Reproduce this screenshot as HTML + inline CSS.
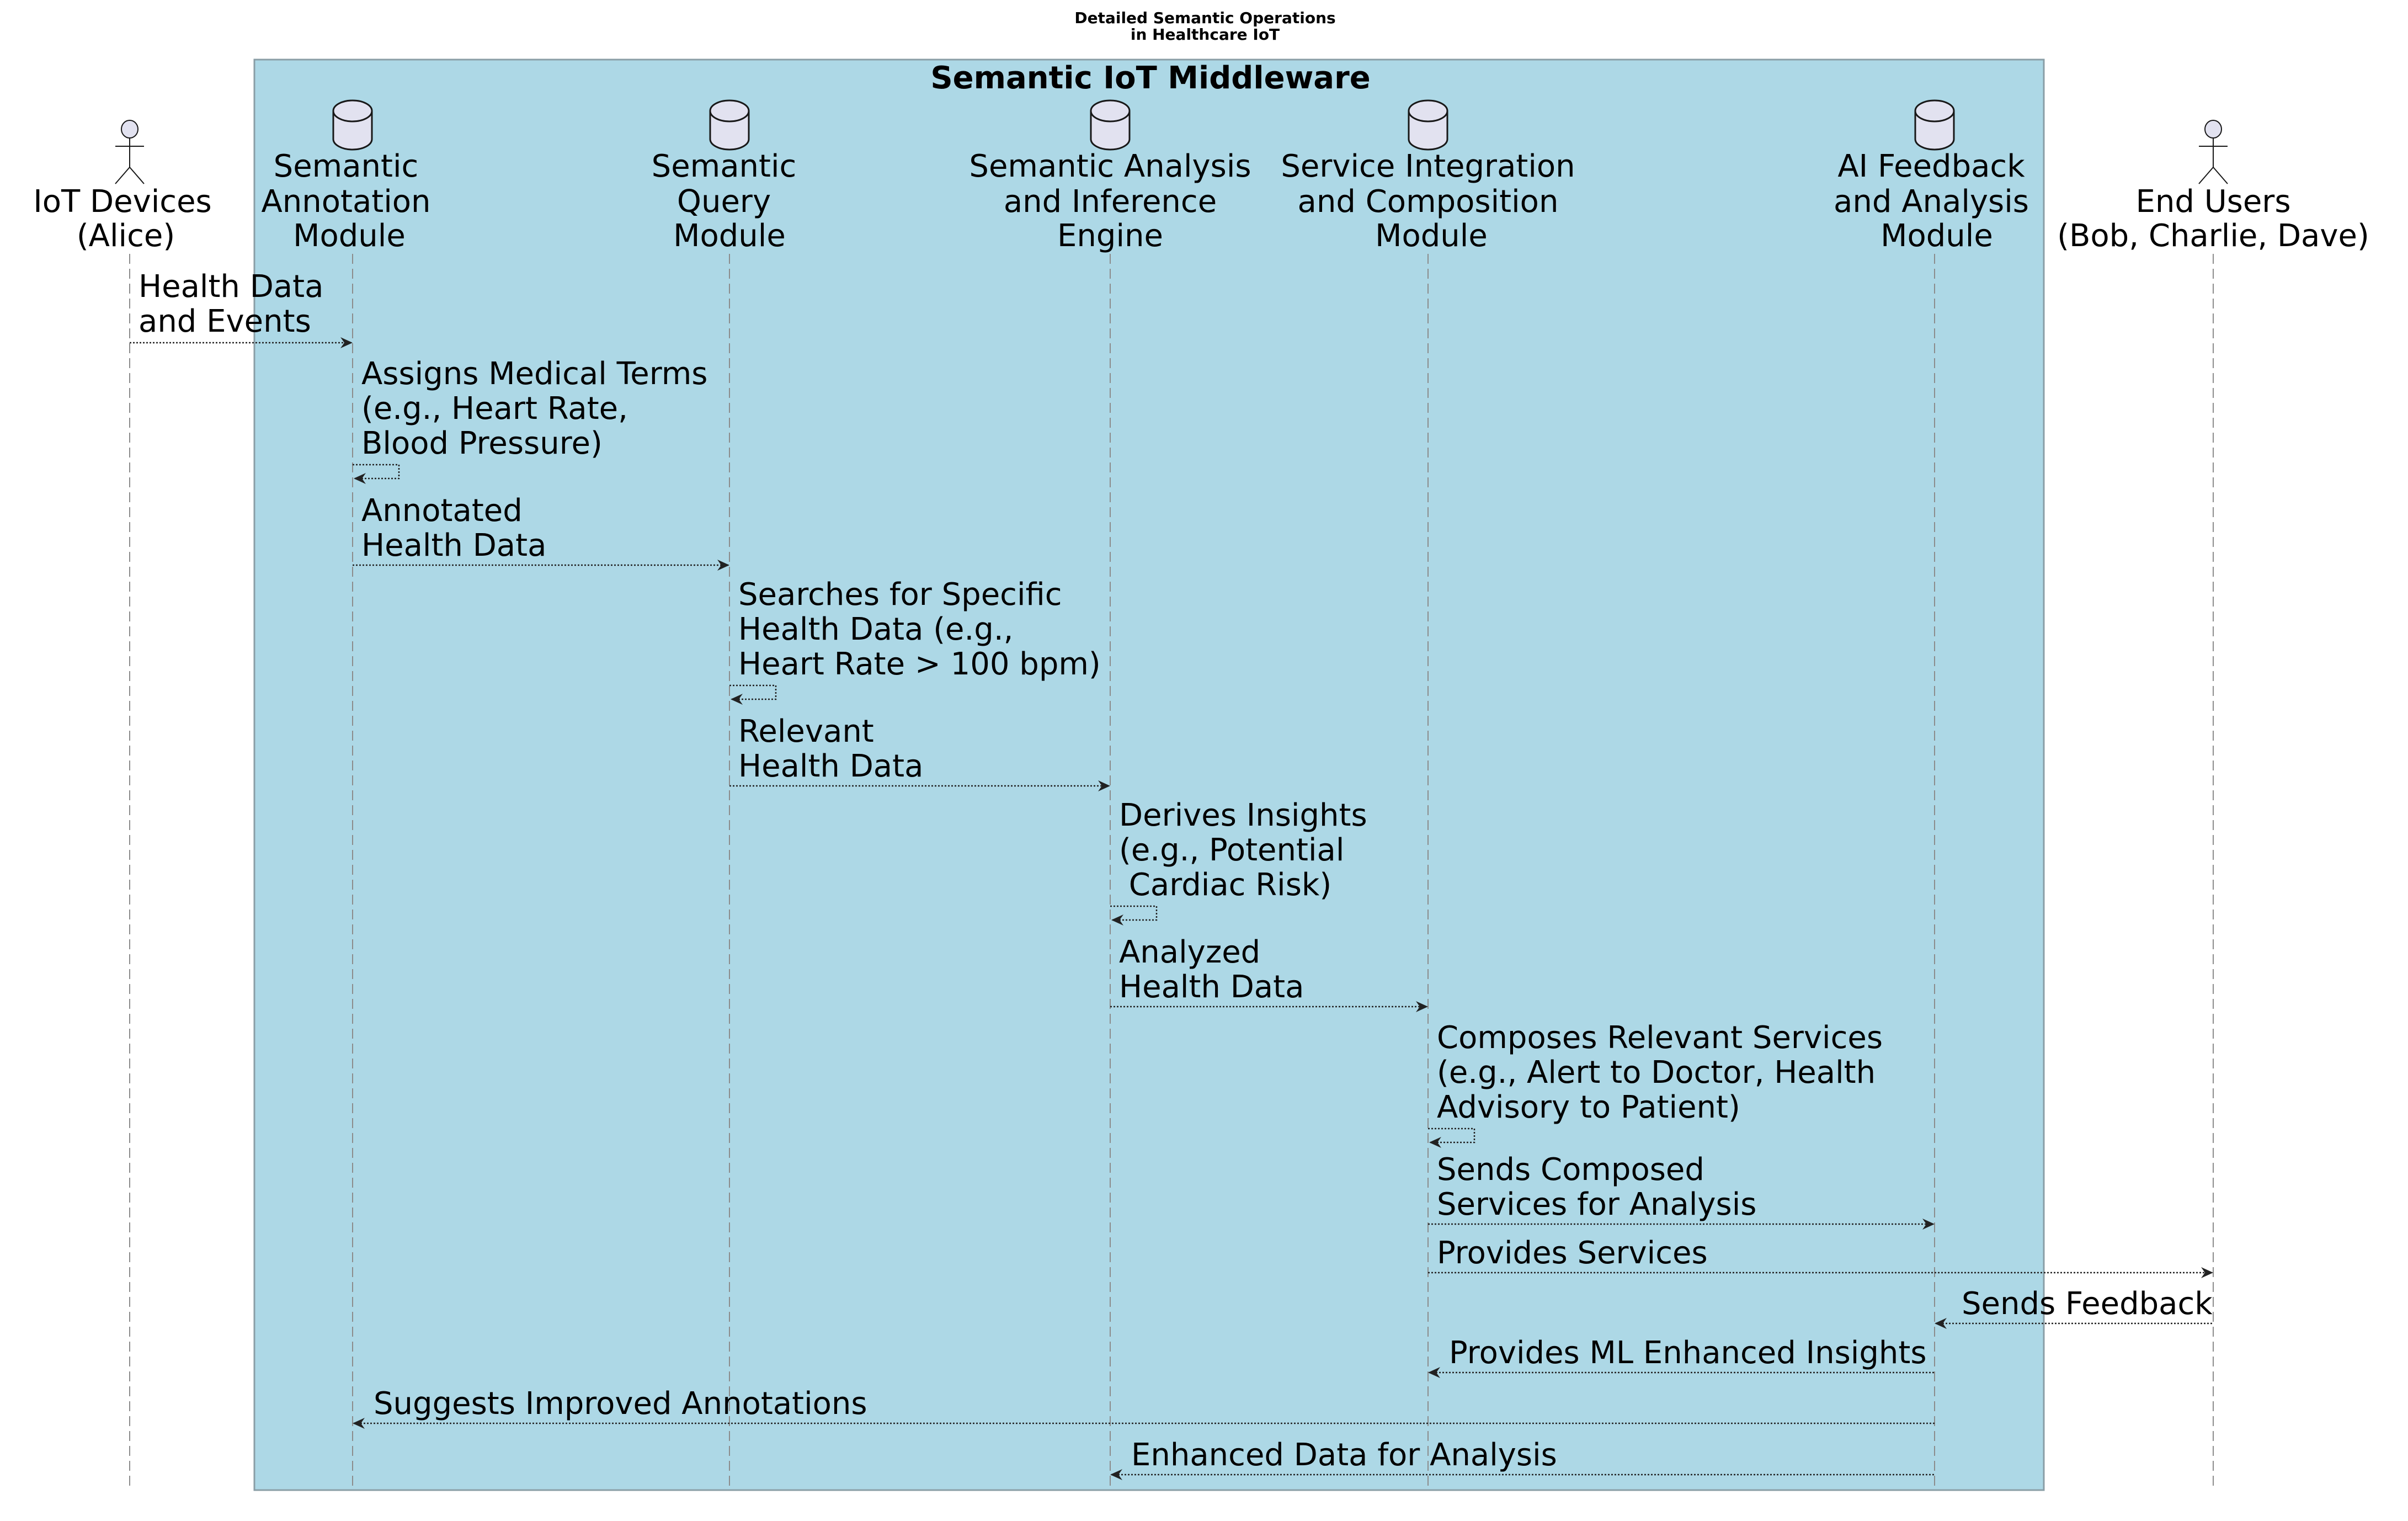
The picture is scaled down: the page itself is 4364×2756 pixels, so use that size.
<!DOCTYPE html>
<html><head><meta charset="utf-8"><style>
html,body{margin:0;padding:0;background:#fff;}
svg{display:block;}
text{font-family:"DejaVu Sans","Liberation Sans",sans-serif;fill:#000;}
.m{font-size:56px;}
.p{font-size:56px;text-anchor:middle;}
.ll{stroke:#8c8c8c;stroke-width:2;stroke-dasharray:18,9;fill:none;}
.ar{stroke:#222;stroke-width:2.5;stroke-dasharray:3,3;fill:none;}
.ah{fill:#222;}
.cyl{fill:#E2E2F0;stroke:#181818;stroke-width:3;}
.act{fill:none;stroke:#181818;stroke-width:2;}
</style></head><body>
<svg width="4364" height="2756" viewBox="0 0 4364 2756" xmlns="http://www.w3.org/2000/svg">
<text x="2184" y="42" font-size="28" font-weight="bold" text-anchor="middle">Detailed Semantic Operations</text>
<text x="2184" y="72" font-size="28" font-weight="bold" text-anchor="middle">in Healthcare IoT</text>
<rect x="461" y="108" width="3243" height="2592" fill="#ADD8E6" stroke="#8a9ea6" stroke-width="3"/>
<text x="2085" y="160" font-size="56" font-weight="bold" text-anchor="middle">Semantic IoT Middleware</text>

<line class="ll" x1="235" y1="460" x2="235" y2="2700"/>
<line class="ll" x1="639" y1="460" x2="639" y2="2700"/>
<line class="ll" x1="1322" y1="460" x2="1322" y2="2700"/>
<line class="ll" x1="2012" y1="460" x2="2012" y2="2700"/>
<line class="ll" x1="2588" y1="460" x2="2588" y2="2700"/>
<line class="ll" x1="3506" y1="460" x2="3506" y2="2700"/>
<line class="ll" x1="4011" y1="460" x2="4011" y2="2700"/>

<g class="act">
<ellipse cx="235" cy="234" rx="15" ry="16" fill="#E2E2F0"/>
<line x1="235" y1="250" x2="235" y2="303"/><line x1="209" y1="265" x2="261" y2="265"/>
<line x1="235" y1="303" x2="209" y2="333"/><line x1="235" y1="303" x2="261" y2="333"/>
<ellipse cx="4011" cy="234" rx="15" ry="16" fill="#E2E2F0"/>
<line x1="4011" y1="250" x2="4011" y2="303"/><line x1="3985" y1="265" x2="4037" y2="265"/>
<line x1="4011" y1="303" x2="3985" y2="333"/><line x1="4011" y1="303" x2="4037" y2="333"/>
</g>
<text class="p" x="222" y="384">IoT Devices</text>
<text class="p" x="228" y="446">(Alice)</text>
<text class="p" x="4011" y="384">End Users</text>
<text class="p" x="4011" y="446">(Bob, Charlie, Dave)</text>

<g>
<path class="cyl" d="M604,201 a35,19 0 0 1 70,0 v51 a35,19 0 0 1 -70,0 z"/><path class="cyl" d="M604,201 a35,19 0 0 0 70,0" fill="none"/>
<path class="cyl" d="M1287,201 a35,19 0 0 1 70,0 v51 a35,19 0 0 1 -70,0 z"/><path class="cyl" d="M1287,201 a35,19 0 0 0 70,0" fill="none"/>
<path class="cyl" d="M1977,201 a35,19 0 0 1 70,0 v51 a35,19 0 0 1 -70,0 z"/><path class="cyl" d="M1977,201 a35,19 0 0 0 70,0" fill="none"/>
<path class="cyl" d="M2553,201 a35,19 0 0 1 70,0 v51 a35,19 0 0 1 -70,0 z"/><path class="cyl" d="M2553,201 a35,19 0 0 0 70,0" fill="none"/>
<path class="cyl" d="M3471,201 a35,19 0 0 1 70,0 v51 a35,19 0 0 1 -70,0 z"/><path class="cyl" d="M3471,201 a35,19 0 0 0 70,0" fill="none"/>
</g>
<text class="p" x="627" y="320">Semantic</text><text class="p" x="627" y="384">Annotation</text><text class="p" x="633" y="446">Module</text>
<text class="p" x="1312" y="320">Semantic</text><text class="p" x="1312" y="384">Query</text><text class="p" x="1322" y="446">Module</text>
<text class="p" x="2012" y="320">Semantic Analysis</text><text class="p" x="2012" y="384">and Inference</text><text class="p" x="2012" y="446">Engine</text>
<text class="p" x="2588" y="320">Service Integration</text><text class="p" x="2588" y="384">and Composition</text><text class="p" x="2594" y="446">Module</text>
<text class="p" x="3500" y="320">AI Feedback</text><text class="p" x="3500" y="384">and Analysis</text><text class="p" x="3510" y="446">Module</text>

<text class="m" x="251" y="538">Health Data</text><text class="m" x="251" y="601">and Events</text>
<line class="ar" x1="235" y1="621" x2="637" y2="621"/><path class="ah" d="M639,621 l-22,-10 l7,10 l-7,10 z"/>

<text class="m" x="655" y="696">Assigns Medical Terms</text><text class="m" x="655" y="759">(e.g., Heart Rate,</text><text class="m" x="655" y="822">Blood Pressure)</text>
<polyline class="ar" points="639,842 723,842 723,867 643,867"/><path class="ah" d="M641,867 l22,-10 l-7,10 l7,10 z"/>

<text class="m" x="655" y="944">Annotated</text><text class="m" x="655" y="1007">Health Data</text>
<line class="ar" x1="639" y1="1024" x2="1320" y2="1024"/><path class="ah" d="M1322,1024 l-22,-10 l7,10 l-7,10 z"/>

<text class="m" x="1338" y="1096">Searches for Specific</text><text class="m" x="1338" y="1159">Health Data (e.g.,</text><text class="m" x="1338" y="1222">Heart Rate &gt; 100 bpm)</text>
<polyline class="ar" points="1322,1242 1406,1242 1406,1267 1326,1267"/><path class="ah" d="M1324,1267 l22,-10 l-7,10 l7,10 z"/>

<text class="m" x="1338" y="1344">Relevant</text><text class="m" x="1338" y="1407">Health Data</text>
<line class="ar" x1="1322" y1="1424" x2="2010" y2="1424"/><path class="ah" d="M2012,1424 l-22,-10 l7,10 l-7,10 z"/>

<text class="m" x="2028" y="1496">Derives Insights</text><text class="m" x="2028" y="1559">(e.g., Potential</text><text class="m" x="2028" y="1622">&#160;Cardiac Risk)</text>
<polyline class="ar" points="2012,1642 2096,1642 2096,1667 2016,1667"/><path class="ah" d="M2014,1667 l22,-10 l-7,10 l7,10 z"/>

<text class="m" x="2028" y="1744">Analyzed</text><text class="m" x="2028" y="1807">Health Data</text>
<line class="ar" x1="2012" y1="1824" x2="2586" y2="1824"/><path class="ah" d="M2588,1824 l-22,-10 l7,10 l-7,10 z"/>

<text class="m" x="2604" y="1899">Composes Relevant Services</text><text class="m" x="2604" y="1962">(e.g., Alert to Doctor, Health</text><text class="m" x="2604" y="2025">Advisory to Patient)</text>
<polyline class="ar" points="2588,2045 2672,2045 2672,2070 2592,2070"/><path class="ah" d="M2590,2070 l22,-10 l-7,10 l7,10 z"/>

<text class="m" x="2604" y="2138">Sends Composed</text><text class="m" x="2604" y="2201">Services for Analysis</text>
<line class="ar" x1="2588" y1="2218" x2="3504" y2="2218"/><path class="ah" d="M3506,2218 l-22,-10 l7,10 l-7,10 z"/>

<text class="m" x="2604" y="2289">Provides Services</text>
<line class="ar" x1="2588" y1="2306" x2="4009" y2="2306"/><path class="ah" d="M4011,2306 l-22,-10 l7,10 l-7,10 z"/>

<text class="m" x="3555" y="2381">Sends Feedback</text>
<line class="ar" x1="3508" y1="2398" x2="4011" y2="2398"/><path class="ah" d="M3506,2398 l22,-10 l-7,10 l7,10 z"/>

<text class="m" x="2626" y="2470">Provides ML Enhanced Insights</text>
<line class="ar" x1="2590" y1="2487" x2="3506" y2="2487"/><path class="ah" d="M2588,2487 l22,-10 l-7,10 l7,10 z"/>

<text class="m" x="677" y="2562">Suggests Improved Annotations</text>
<line class="ar" x1="641" y1="2579" x2="3506" y2="2579"/><path class="ah" d="M639,2579 l22,-10 l-7,10 l7,10 z"/>

<text class="m" x="2050" y="2655">Enhanced Data for Analysis</text>
<line class="ar" x1="2014" y1="2672" x2="3506" y2="2672"/><path class="ah" d="M2012,2672 l22,-10 l-7,10 l7,10 z"/>
</svg>
</body></html>
